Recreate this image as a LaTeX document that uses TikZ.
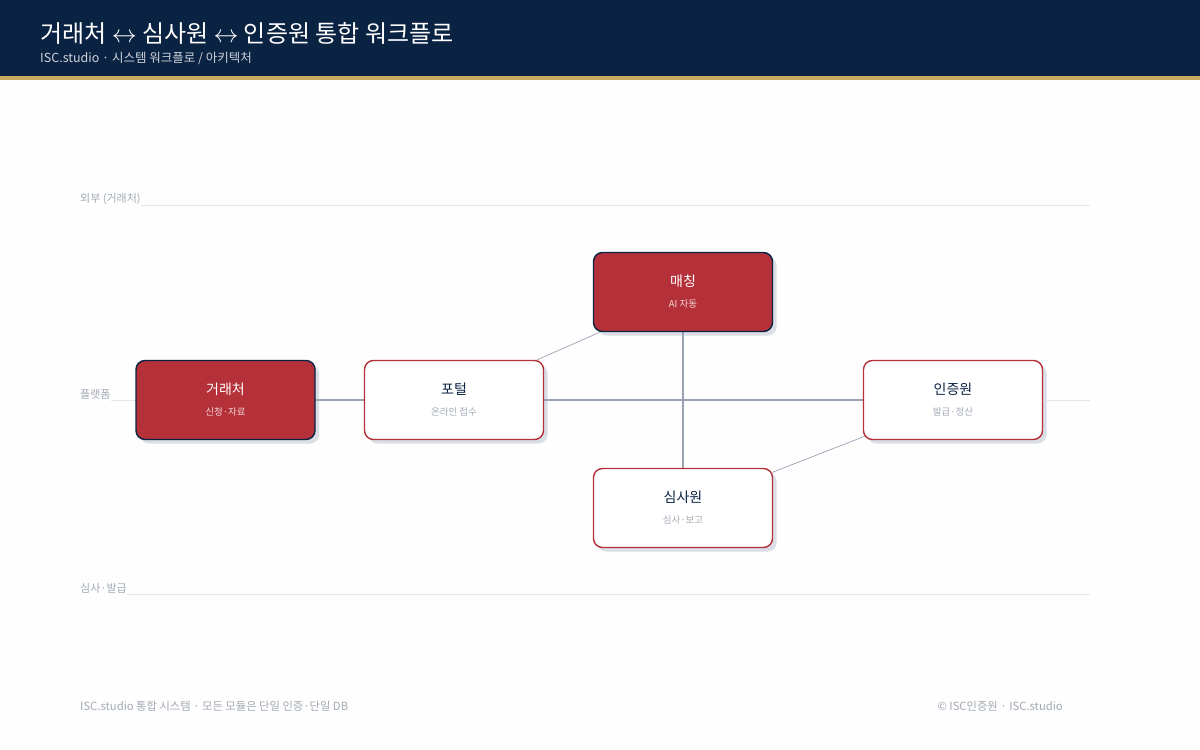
\documentclass[tikz,border=0pt]{standalone}
\usepackage{fontspec}
\setmainfont{Noto Sans CJK KR}
\usetikzlibrary{positioning}
\definecolor{navy}{HTML}{0B2343}
\definecolor{gold}{HTML}{C9A862}
\definecolor{brick}{HTML}{B5313A}
\definecolor{wire}{HTML}{9AA3B2}
\definecolor{lane}{HTML}{E3E7EE}
\definecolor{muted}{HTML}{A3A9B4}
\definecolor{dropc}{HTML}{D9DEE7}
\newcommand\subtxt[2]{{\fontsize{9.5}{11}\selectfont\color{#1}#2}}
\tikzset{
  box/.style={rounded corners=9pt, minimum width=179pt, minimum height=79pt, line width=1.4pt,
    align=center, inner sep=0pt, font=\fontsize{14}{17}\selectfont},
  hot/.style={box, fill=brick, draw=navy, text=white},
  cold/.style={box, fill=white, draw=brick, text=navy},
  link/.style={draw=wire, line width=1.6pt},
  thin/.style={draw=wire, line width=0.7pt},
  lanetxt/.style={text=muted, font=\fontsize{11}{12}\selectfont, anchor=west, inner sep=0pt},
}
\begin{document}
\begin{tikzpicture}[x=1pt,y=-1pt]
\useasboundingbox (0,0) rectangle (1200,750);
\fill[white!97!lane] (0,0) rectangle (1200,750);
% header
\fill[navy] (0,0) rectangle (1200,76);
\fill[gold] (0,76) rectangle (1200,80);
\node[anchor=west, text=white, inner sep=0pt, font=\fontsize{24}{28}\selectfont] (title) at (40,33) {거래처 $\leftrightarrow$ 심사원 $\leftrightarrow$ 인증원 통합 워크플로};
\node[anchor=west, text=white!80!navy, inner sep=0pt, font=\fontsize{12.5}{14}\selectfont] (subtitle) at (40,58) {ISC.studio · 시스템 워크플로 / 아키텍처};

% lanes
\node[lanetxt] (l1) at (80,199) {외부 (거래처)};
\node[lanetxt] (l2) at (80,394) {플랫폼};
\node[lanetxt] (l3) at (80,588) {심사·발급};
\draw[lane] (l1.east) ++(0,6) -- (1090,205);
\draw[lane] (l2.east) ++(0,6) -- (1090,400);
\draw[lane] (l3.east) ++(0,6) -- (1090,594);

% drop shadows
\foreach \cx/\cy in {225.5/400, 454/400, 683/292, 953/400, 683/508}
  \fill[dropc, rounded corners=9pt] (\cx-85.5,\cy-35.5) rectangle (\cx+93.5,\cy+43.5);

% connectors (drawn under boxes)
\coordinate (cc) at (225.5,400);
\coordinate (pc) at (454,400);
\coordinate (ic) at (953,400);
\coordinate (mc) at (683,292);
\coordinate (sc) at (683,508);
\draw[link] (cc) -- (pc);
\draw[link] (pc) -- (ic);
\draw[link] (mc) -- (sc);

% nodes
\node[hot]  (client) at (cc) {거래처\\[4pt]\subtxt{white!80!brick}{신청·자료}};
\node[cold] (portal) at (pc) {포털\\[4pt]\subtxt{muted}{온라인 접수}};
\node[hot]  (match)  at (mc) {매칭\\[4pt]\subtxt{white!80!brick}{AI 자동}};
\node[cold] (cert)   at (ic) {인증원\\[4pt]\subtxt{muted}{발급·정산}};
\node[cold] (audit)  at (sc) {심사원\\[4pt]\subtxt{muted}{심사·보고}};

\draw[thin] (portal.north east) ++(-7,0) -- ([xshift=7pt]match.south west);
\draw[thin] (cert.south west) ++(2,-4) -- ([xshift=-2pt,yshift=-5pt]audit.north east);

% footer
\node[anchor=west, text=muted, inner sep=0pt, font=\fontsize{11.3}{13}\selectfont] (foot) at (80,706) {ISC.studio 통합 시스템 · 모든 모듈은 단일 인증·단일 DB};
\node[anchor=east, text=muted, inner sep=0pt, font=\fontsize{11.3}{13}\selectfont] (copy) at (1063,706) {© ISC인증원 · ISC.studio};
\end{tikzpicture}
\end{document}
